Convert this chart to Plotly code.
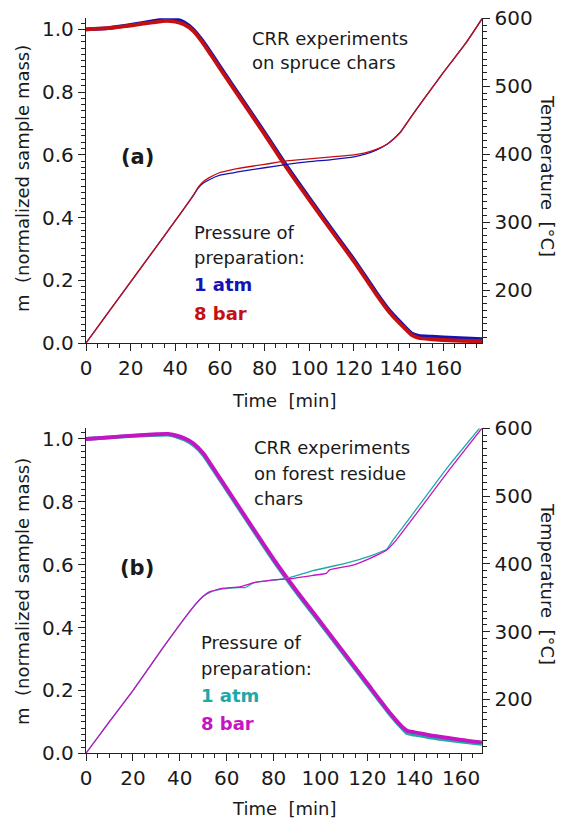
import plotly.graph_objects as go

W, H = 561, 823

# ---------------- Panel (a): spruce chars ----------------
a_mass_t = [0, 10, 20, 30, 36, 40, 44, 48, 52, 56, 60, 70, 80, 90, 100, 110, 120, 130, 136, 140, 143, 146, 149, 155, 165, 177.5]
a_mass_1atm = [1.0, 1.004, 1.014, 1.026, 1.034, 1.033, 1.022, 1.0, 0.965, 0.924, 0.881, 0.776, 0.671, 0.563, 0.462, 0.363, 0.266, 0.161, 0.103, 0.072, 0.05, 0.03, 0.023, 0.02, 0.016, 0.012]
a_mass_8bar = [1.0, 1.004, 1.012, 1.022, 1.027, 1.024, 1.015, 0.995, 0.96, 0.918, 0.875, 0.77, 0.665, 0.557, 0.456, 0.357, 0.26, 0.155, 0.097, 0.066, 0.045, 0.025, 0.016, 0.012, 0.008, 0.006]

a_temp_t = [0, 10, 20, 30, 40, 45, 48, 50, 52, 55, 60, 65, 70, 80, 90, 100, 110, 120, 125, 130, 135, 138, 141, 145, 150, 160, 170, 177.5]
a_temp_1atm = [122, 167, 212, 257, 302, 325, 339, 349, 356, 362, 369, 372, 375, 380, 385, 389, 392, 396, 400, 406, 415, 423, 433, 452, 475, 520, 563, 600]
a_temp_8bar = [122, 167, 212, 257, 302, 325, 339, 350, 358, 365, 373, 377, 380, 385, 390, 393, 396, 399, 402, 407, 415, 423, 433, 452, 475, 520, 563, 600]

# ---------------- Panel (b): forest residue chars ----------------
b_mass_t = [0, 10, 20, 30, 35, 38, 42, 46, 50, 53, 56, 60, 70, 80, 90, 100, 110, 120, 130, 135, 137, 140, 146.5, 150, 160, 168.8]
b_mass_1atm = [1.0, 1.005, 1.010, 1.013, 1.014, 1.009, 0.998, 0.98, 0.95, 0.917, 0.883, 0.838, 0.725, 0.613, 0.51, 0.413, 0.315, 0.217, 0.12, 0.078, 0.064, 0.059, 0.051, 0.047, 0.037, 0.030]
b_mass_8bar = [1.0, 1.005, 1.011, 1.015, 1.016, 1.012, 1.002, 0.985, 0.955, 0.922, 0.888, 0.843, 0.73, 0.618, 0.515, 0.418, 0.32, 0.222, 0.125, 0.083, 0.072, 0.067, 0.058, 0.054, 0.043, 0.035]

b_temp_t_1atm = [0, 10, 20, 33, 45.7, 50, 52.8, 58.5, 65, 68, 70, 71.3, 82.6, 88.3, 96.8, 111, 122.3, 128.1, 130.9, 137.3, 145, 155, 167.8]
b_temp_1atm = [120.5, 167, 213, 277, 336, 352, 358, 363, 365, 365, 369, 372, 377, 381, 390, 401, 413, 421, 435, 464, 500, 546, 600]
b_temp_t_8bar = [0, 10, 20, 33, 45.7, 50, 52.8, 58.5, 65.6, 71.3, 82.6, 86.9, 96.8, 102.5, 103.9, 113.8, 122.3, 128.1, 132.3, 138.7, 145, 155, 168.8]
b_temp_8bar = [120.5, 167, 213, 277, 336, 352, 359, 364, 366, 372, 377, 378, 383, 386, 391, 398, 410, 420, 435, 464, 493, 539, 600]

# tick labels
mass_ticks = [0.0, 0.2, 0.4, 0.6, 0.8, 1.0]
temp_ticks = [200, 300, 400, 500, 600]
time_ticks = [0, 20, 40, 60, 80, 100, 120, 140, 160]

C_BLUE = "#1414b4"
C_RED = "#c41010"
C_TEAL = "#1fa8a8"
C_MAG = "#c414c4"
TXT = "#1a1a1a"
FONT = "DejaVu Sans"

def px_x(p):
    return p / W

def px_y(p):
    return 1 - p / H

fig = go.Figure()

MW, TW = 3.8, 1.3
fig.add_trace(go.Scatter(x=a_mass_t, y=a_mass_1atm, mode="lines", line=dict(color=C_BLUE, width=MW, shape="spline", smoothing=0.6), xaxis="x", yaxis="y"))
fig.add_trace(go.Scatter(x=a_mass_t, y=a_mass_8bar, mode="lines", line=dict(color=C_RED, width=MW, shape="spline", smoothing=0.6), xaxis="x", yaxis="y"))
fig.add_trace(go.Scatter(x=a_temp_t, y=a_temp_1atm, mode="lines", line=dict(color=C_BLUE, width=TW, shape="spline", smoothing=0.6), xaxis="x", yaxis="y2"))
fig.add_trace(go.Scatter(x=a_temp_t, y=a_temp_8bar, mode="lines", line=dict(color=C_RED, width=TW, shape="spline", smoothing=0.6), xaxis="x", yaxis="y2"))

fig.add_trace(go.Scatter(x=b_mass_t, y=b_mass_1atm, mode="lines", line=dict(color=C_TEAL, width=MW, shape="spline", smoothing=0.6), xaxis="x2", yaxis="y3"))
fig.add_trace(go.Scatter(x=b_mass_t, y=b_mass_8bar, mode="lines", line=dict(color=C_MAG, width=MW, shape="spline", smoothing=0.6), xaxis="x2", yaxis="y3"))
fig.add_trace(go.Scatter(x=b_temp_t_1atm, y=b_temp_1atm, mode="lines", line=dict(color=C_TEAL, width=TW, shape="spline", smoothing=0.4), xaxis="x2", yaxis="y4"))
fig.add_trace(go.Scatter(x=b_temp_t_8bar, y=b_temp_8bar, mode="lines", line=dict(color=C_MAG, width=TW, shape="spline", smoothing=0.4), xaxis="x2", yaxis="y4"))

XD = [px_x(86), px_x(482.3)]
YD_A = [px_y(343), px_y(18.3)]
YD_B = [px_y(753.3), px_y(428.3)]

axis_common = dict(showgrid=False, zeroline=False, showline=True, linecolor="#222222", linewidth=1.3,
                   ticks="outside", ticklen=7, tickwidth=1.3, tickcolor="#222222", automargin=False,
                   tickfont=dict(family=FONT, size=20, color=TXT))

def xax(rng, anchor):
    return dict(axis_common, domain=XD, range=rng, anchor=anchor, tickvals=time_ticks,
                minor=dict(dtick=5, tick0=0, ticks="outside", ticklen=4, tickwidth=1.1, tickcolor="#222222"))

def yl(rng, dom, anchor):
    return dict(axis_common, domain=dom, range=rng, anchor=anchor, tickvals=mass_ticks, tickformat=".1f",
                minor=dict(dtick=0.02, tick0=0, ticks="outside", ticklen=4, tickwidth=1.1, tickcolor="#222222"))

def yr(rng, over, anchor):
    return dict(axis_common, overlaying=over, side="right", range=rng, anchor=anchor, tickvals=temp_ticks,
                minor=dict(dtick=10, tick0=0, ticks="outside", ticklen=4, tickwidth=1.1, tickcolor="#222222"))

fig.update_layout(
    width=W, height=H, margin=dict(l=0, r=0, t=0, b=0, autoexpand=False),
    paper_bgcolor="white", plot_bgcolor="white", showlegend=False,
    xaxis=xax([0, 177.5], "y"),
    yaxis=yl([0, 1.035], YD_A, "x"),
    yaxis2=yr([122, 600], "y", "x"),
    xaxis2=xax([0, 169], "y3"),
    yaxis3=yl([0, 1.034], YD_B, "x2"),
    yaxis4=yr([120.4, 600], "y3", "x2"),
)

def ann(text, x, y, size=18, bold=False, color=TXT, xanchor="left", angle=0):
    t = f"<b>{text}</b>" if bold else text
    fig.add_annotation(text=t, x=px_x(x), y=px_y(y), xref="paper", yref="paper", showarrow=False,
                       xanchor=xanchor, yanchor="middle", textangle=angle,
                       font=dict(family=FONT, size=size, color=color))

# Panel (a) texts
ann("CRR experiments", 250, 39)
ann("on spruce chars", 250, 62)
ann("(a)", 137, 157, size=21, bold=True, xanchor="center")
ann("Pressure of", 192, 232)
ann("preparation:", 192, 257)
ann("1 atm", 192, 285, bold=True, color=C_BLUE)
ann("8 bar", 192, 313, bold=True, color=C_RED)
ann("Time\u00a0 [min]", 284, 400, xanchor="center")
ann("m\u00a0 (normalized sample mass)", 22, 179, xanchor="center", angle=-90)
ann("Temperature\u00a0 [°C]", 548, 176, xanchor="center", angle=90)

# Panel (b) texts
ann("CRR experiments", 252, 447)
ann("on forest residue", 252, 473)
ann("chars", 252, 498)
ann("(b)", 137, 568, size=21, bold=True, xanchor="center")
ann("Pressure of", 199, 642)
ann("preparation:", 199, 668)
ann("1 atm", 199, 695, bold=True, color=C_TEAL)
ann("8 bar", 199, 723, bold=True, color=C_MAG)
ann("Time\u00a0 [min]", 284, 808, xanchor="center")
ann("m\u00a0 (normalized sample mass)", 22, 592, xanchor="center", angle=-90)
ann("Temperature\u00a0 [°C]", 548, 584, xanchor="center", angle=90)

fig.write_html("out.html", config={"displayModeBar": False},
               post_script="document.body.style.margin='0';document.body.style.overflow='hidden';")
